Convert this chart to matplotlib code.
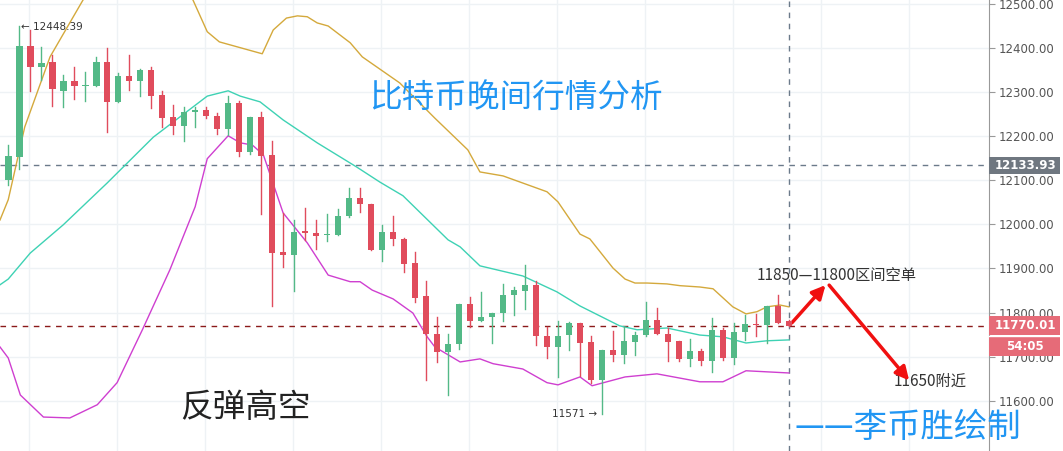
import matplotlib
matplotlib.use("Agg")
import matplotlib.pyplot as plt
from matplotlib.patches import Rectangle

plt.rcParams['font.family'] = ['Noto Sans CJK SC', 'DejaVu Sans']

opens  = [12101,12154,12405,12358,12368,12303,12325,12313,12315,12368,12278,12337,12326,12350,12294,12243,12224,12254,12260,12246,12217,12275,12164,12243,12157,11937,11931,11984,11980,11975,11976,12018,12059,12046,11942,11982,
          11967,11912,11838,11752,11710,11728,11819,11782,11789,11798,11839,11850,11863,11747,11723,11748,11776,11733,11647,11715,11703,11734,11748,11783,11752,11736,11695,11713,11691,11761,11697,11756,11775,11771,11814,11780]
closes = [12155,12405,12358,12367,12308,12325,12313,12316,12368,12278,12337,12326,12350,12292,12242,12224,12254,12260,12245,12217,12275,12164,12243,12156,11936,11931,11982,11980,11974,11978,12019,12059,12046,11941,11982,11966,
          11911,11834,11751,11710,11729,11819,11782,11789,11798,11840,11851,11863,11746,11723,11747,11776,11732,11647,11715,11703,11736,11749,11783,11751,11734,11695,11713,11691,11761,11697,11756,11774,11771,11814,11777,11770.01]
highs  = [12179,12449,12440,12403,12384,12339,12356,12345,12379,12399,12343,12384,12353,12358,12303,12271,12266,12266,12266,12252,12291,12279,12243,12256,12189,12025,12010,12037,12009,12024,12034,12082,12082,12046,11998,12018,
          11969,11938,11872,11789,11751,11819,11836,11846,11798,11864,11857,11908,11872,11767,11782,11778,11776,11746,11715,11758,11768,11755,11823,11811,11765,11736,11740,11717,11787,11765,11776,11795,11796,11814,11839,11783]
lows   = [12090,12125,12303,12328,12269,12267,12285,12280,12313,12209,12278,12305,12292,12265,12220,12204,12190,12220,12241,12204,12202,12156,12160,12024,11814,11903,11850,11965,11944,11963,11976,12016,12029,11941,11916,11953,
          11891,11823,11647,11689,11612,11718,11767,11782,11732,11782,11795,11808,11727,11698,11653,11715,11656,11641,11571,11691,11685,11703,11746,11751,11691,11691,11679,11681,11666,11693,11683,11738,11747,11732,11777,11770]

upper_x = [-0.75,0,1.5,3.8,6.8,9.2,12.9,15.6,16.8,18.1,19.2,23.1,24.1,25.3,26.3,27.2,28.1,29.1,31.1,32.2,35.6,38.8,41.8,42.9,45.0,49.0,50.0,52.0,52.9,55.0,56.1,57.0,58.1,59.9,61.1,62.9,64.1,65.9,67.1,68.1,69.0,70.2,71.0]
upper_y = [12010,12056,12221,12380,12509,12577,12611,12566,12509,12437,12414,12387,12441,12468,12473,12471,12457,12450,12412,12380,12321,12241,12169,12119,12110,12074,12051,11978,11967,11901,11876,11867,11867,11865,11861,11858,11854,11813,11797,11802,11813,11817,11813]
mid_x = [-0.75,0,2.0,5.0,9.0,13.2,18.1,20.0,21.1,22.9,25.0,28.1,31.7,33.8,35.9,40.0,41.1,42.9,46.8,49.9,52.0,55.6,57.2,59.9,62.9,65.0,67.1,69.0,71.0]
mid_y = [11863,11876,11935,11999,12094,12198,12291,12303,12291,12278,12237,12185,12130,12096,12065,11965,11949,11906,11883,11847,11815,11770,11761,11765,11749,11745,11731,11736,11738]
lower_x = [-0.75,0,1.1,3.2,5.6,8.1,9.9,12.2,14.7,17.0,18.1,20.0,21.1,22.2,23.2,25.0,27.2,29.1,31.1,32.0,33.1,35.0,36.8,38.1,38.8,41.1,42.9,44.1,46.8,49.0,50.0,52.0,53.1,56.1,59.0,62.9,65.0,67.1,71.0]
lower_y = [11722,11697,11613,11563,11561,11591,11641,11761,11897,12040,12149,12201,12185,12180,12158,12026,11958,11885,11870,11870,11851,11831,11799,11745,11722,11688,11695,11684,11672,11641,11636,11654,11634,11654,11661,11643,11643,11668,11663]

ticks = [11600,11700,11800,11900,12000,12100,12200,12300,12400,12500]

W, H = 1063, 451
fig = plt.figure(figsize=(W/100, H/100), dpi=100)
ax = fig.add_axes([0, 0, 989/W, 1])
ax.set_xlim(-0.75, 89.2)
ax.set_ylim(11486, 12509)
for t in ticks:
    ax.axhline(t, color='#eef2f5', lw=1, zorder=0)
for gx in range(0, 12):
    ax.axvline(1.9 + 8*gx, color='#eef2f5', lw=1, zorder=0)

G, R = '#53b987', '#e04c5c'
for i in range(len(opens)):
    o, c, h, l = opens[i], closes[i], highs[i], lows[i]
    col = G if c >= o else R
    ax.plot([i, i], [l, h], color=col, lw=1, zorder=3)
    ax.add_patch(Rectangle((i-0.3, min(o, c)), 0.6, max(abs(c-o), 1.5), color=col, zorder=4, lw=0))

ax.plot(upper_x, upper_y, color='#d4a93c', lw=1, zorder=2)
ax.plot(mid_x, mid_y, color='#3ed2b4', lw=1, zorder=2)
ax.plot(lower_x, lower_y, color='#cf3fd0', lw=1, zorder=2)

ax.axhline(12133.93, color='#6b7a8a', lw=1, ls=(0, (4, 4)), zorder=1)
ax.axhline(closes[-1], color='#8b1a1a', lw=1, ls=(0, (4, 4)), zorder=1)
ax.axvline(71, color='#6b7a8a', lw=1, ls=(0, (4, 4)), zorder=1)

for s in ax.spines.values():
    s.set_visible(False)
ax.spines['right'].set_visible(True)
ax.spines['right'].set_color('#999999')
ax.set_xticks([])
ax.yaxis.tick_right()
ax.set_yticks(ticks)
ax.set_yticklabels([f'{t:.2f}' for t in ticks], color='#555555', fontsize=8.5, family='DejaVu Sans')
ax.tick_params(axis='y', length=4, color='#999999', pad=3)

trans = ax.get_yaxis_transform()
def box(y, txt, fc, h):
    ax.add_patch(Rectangle((1.0, y - h/2), 71/989, h, transform=trans, fc=fc, ec='none',
                           clip_on=False, zorder=9))
    ax.text(1.0 + 36/989, y, txt, transform=trans, ha='center', va='center', fontsize=8.5,
            color='white', fontweight='bold', family='DejaVu Sans', clip_on=False, zorder=10)
box(12133.93, '12133.93', '#6f7780', 40)
box(11770.01, '11770.01', '#e66b78', 44)
box(11723, '54:05', '#e66b78', 44)
ax.plot([1.0, 1.0 + 71/989], [11746, 11746], transform=trans, color='white', lw=1, clip_on=False, zorder=11)

ax.text(1.2, 12448.39, '← 12448.39', fontsize=7.5, color='#333333', va='center', family='DejaVu Sans')
ax.text(53.6, 11571, '11571 →', fontsize=7.5, color='#333333', va='center', ha='right', family='DejaVu Sans')

ax.text(46.2, 12286, '比特币晚间行情分析', fontsize=23.5, color='#2196f3', ha='center', va='center')
ax.text(21.6, 11583, '反弹高空', fontsize=23.5, color='#222222', ha='center', va='center')
ax.text(81.8, 11540, '——李币胜绘制', fontsize=24, color='#2196f3', ha='center', va='center')
ax.text(75.3, 11883, '11850—11800区间空单', fontsize=11, color='#333333', ha='center', va='center')
ax.text(83.8, 11645, '11650附近', fontsize=11, color='#333333', ha='center', va='center')

ax.annotate('', xy=(74.5, 11867), xytext=(71.1, 11772),
            arrowprops=dict(arrowstyle='-|>,head_width=0.4,head_length=0.8', color='#f01010', lw=2.5))
ax.annotate('', xy=(82.1, 11641), xytext=(74.5, 11867),
            arrowprops=dict(arrowstyle='-|>,head_width=0.4,head_length=0.8', color='#f01010', lw=2.5))

fig.savefig('out.png', dpi=100)
